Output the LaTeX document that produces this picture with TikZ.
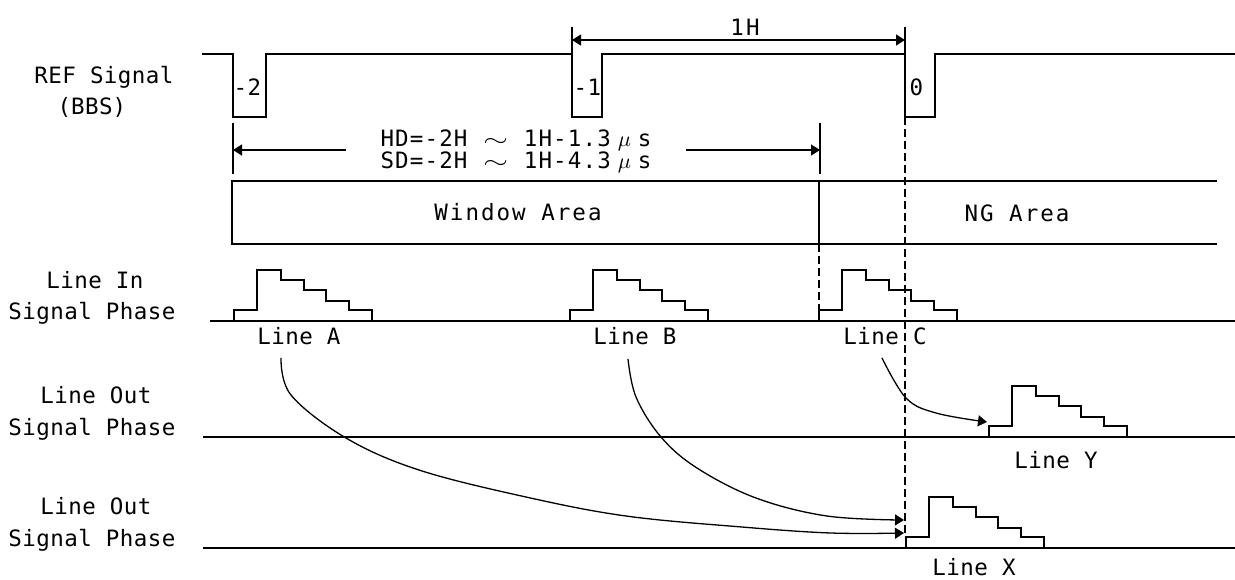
\documentclass[tikz,border=0pt]{standalone}
\usepackage{fontspec}
\usepackage{graphicx}
\setmonofont{DejaVu Sans Mono}[LetterSpace=2]
\newfontfamily\widett{DejaVu Sans Mono}[LetterSpace=9]
\newfontfamily\midtt{DejaVu Sans Mono}[LetterSpace=5]
\usetikzlibrary{arrows.meta}
% full-width cell, two half-width columns
\newcommand\fw[2][c]{\makebox[1.204em][#1]{#2}}
% stepped phase pulse at (x0,baseline)
\newcommand\phasepulse[2]{\draw (#1,#2) -- ++(0,-11) -- ++(23,0) -- ++(0,-40) -- ++(24,0) -- ++(0,10) -- ++(23,0) -- ++(0,10) -- ++(22,0) -- ++(0,11) -- ++(23,0) -- ++(0,9) -- ++(23,0) -- ++(0,11);}
\begin{document}
\begin{tikzpicture}[x=0.5pt, y=-0.5pt, line width=0.65pt,
    every node/.style={font=\ttfamily\fontsize{11.25}{13}\selectfont, inner sep=0pt, anchor=base},
    wide/.style={font=\widett\fontsize{11.25}{13}\selectfont},
    rangetxt/.style={font=\midtt\fontsize{11.25}{13}\selectfont},
    tip/.style={-{Triangle[length=4.5pt,width=5.5pt]}},
    dashln/.style={dash pattern=on 4pt off 2pt}]
  \useasboundingbox (0,0) rectangle (1235,579);

  % REF signal
  \node (refLbl) at (104,83) {REF Signal};
  \node (bbsLbl) at (92,114) {\fw[r]{(}BBS\fw[l]{)}};
  \draw (202,54) -- (233,54) -- (233,117) -- (266,117) -- (266,54) -- (572,54) -- (572,117) -- (602,117) -- (602,54)
    -- (905,54) -- (905,117) -- (935,117) -- (935,54) -- (1235,54);
  \node[anchor=west] (bbsM2) at (233,87) {-2};
  \node[anchor=west] (bbsM1) at (573,87) {-1};
  \node[anchor=west] (bbsZ) at (909,87) {0};

  % 1H
  \coordinate (h1) at (572,40);
  \coordinate (h2) at (905,40);
  \draw (572,27) -- (572,54);
  \draw (905,27) -- (905,54);
  \draw[{Triangle[length=4.5pt,width=5.5pt]}-{Triangle[length=4.5pt,width=5.5pt]}] (h1) -- (h2);
  \node[wide] (oneH) at (745,35) {1H};

  % HD / SD range
  \node[rangetxt] (hdTxt) at (516,146) {HD=-2H \fw{\scalebox{1.45}[1]{$\sim$}} 1H-1.3\fw{$\mu$}s};
  \node[rangetxt] (sdTxt) at (516,168) {SD=-2H \fw{\scalebox{1.45}[1]{$\sim$}} 1H-4.3\fw{$\mu$}s};
  \coordinate (rngL) at (233,150);
  \coordinate (rngR) at (820,150);
  \draw (233,123) -- (233,174);
  \draw (820,123) -- (820,174);
  \draw[tip] (346,150) -- (rngL);
  \draw[tip] (686,150) -- (rngR);

  % areas
  \draw (1217,181) -- (232,181) -- (232,244) -- (1217,244);
  \draw (819,181) -- (819,244);
  \node[wide] (winArea) at (518,220) {Window Area};
  \node[wide] (ngArea) at (1017,221) {NG Area};

  % phase rows
  \node (inLbl) at (95,288) {Line In};
  \node (inPh) at (92,319) {Signal Phase};
  \node (outLbl) at (96,403) {Line Out};
  \node (outPh) at (92,435) {Signal Phase};
  \node (out2Lbl) at (96,514) {Line Out};
  \node (out2Ph) at (92,546) {Signal Phase};
  \draw (210,321) -- (1235,321);
  \draw (203,437) -- (1235,437);
  \draw (203,548) -- (1235,548);
  \phasepulse{234}{321}
  \phasepulse{570}{321}
  \phasepulse{819}{321}
  \phasepulse{989}{437}
  \phasepulse{906}{548}
  \node (lnA) at (299,344) {Line A};
  \node (lnB) at (635,344) {Line B};
  \node (lnC) at (885,344) {Line C};
  \node (lnY) at (1056,468) {Line Y};
  \node (lnX) at (974,575) {Line X};

  \draw[dashln] (905,117) -- (905,537);
  \draw[dashln] (819,244) -- (819,310);

  % moves
  \coordinate (toXa) at (904,533);
  \coordinate (toXb) at (904,520);
  \coordinate (toY) at (987,422);
  \draw[tip] plot[smooth, tension=0.6] coordinates {([shift={(-18,13)}]lnA.south) (291,395) (346,438) (419,470)
    (526,497) (626,516) (742,527) (831,533) (toXa)};
  \draw[tip] plot[smooth, tension=0.6] coordinates {([shift={(-7,14)}]lnB.south) (636,397) (661,437) (697,468)
    (756,498) (827,516) (toXb)};
  \draw[tip] plot[smooth, tension=0.6] coordinates {([shift={(-3,13)}]lnC.south) (906,398) (936,413) (toY)};
\end{tikzpicture}
\end{document}
